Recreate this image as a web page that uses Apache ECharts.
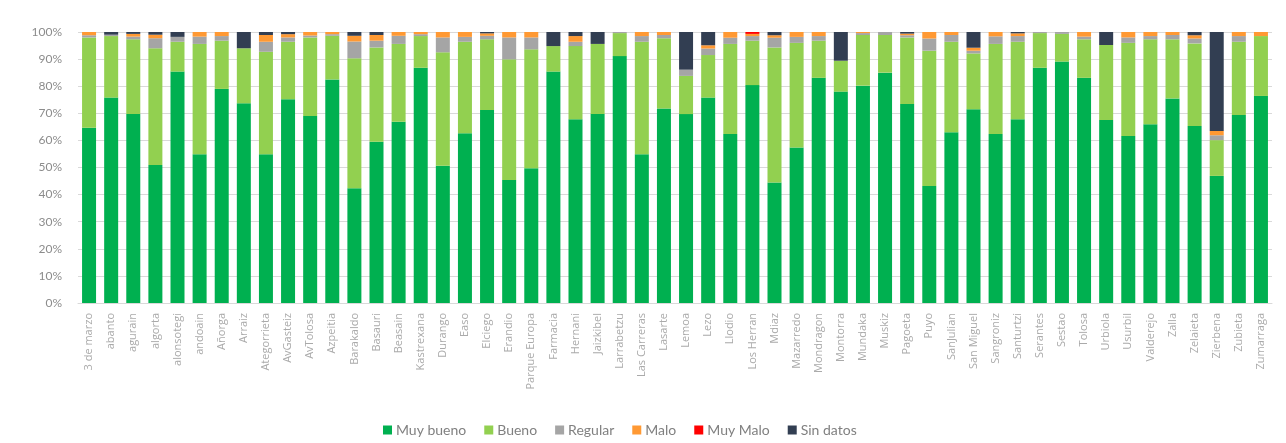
<!DOCTYPE html>
<html>
<head>
<meta charset="utf-8">
<script src="https://cdn.jsdelivr.net/npm/echarts@6/dist/echarts.min.js"></script>
<style>
  html, body { margin: 0; padding: 0; background: #ffffff; }
  #chart { width: 1286px; height: 443px; }
</style>
</head>
<body>
<div id="chart"></div>
<script>
// Station names along the x axis
const stations = [
  "3 de marzo", "abanto", "agurain", "algorta", "alonsotegi", "andoain", "Añorga", "Arraiz",
  "Ategorrieta", "AvGasteiz", "AvTolosa", "Azpeitia", "Barakaldo", "Basauri", "Beasain",
  "Kastrexana", "Durango", "Easo", "Elciego", "Erandio", "Parque Europa", "Farmacia",
  "Hernani", "Jaizkibel", "Larrabetzu", "Las Carreras", "Lasarte", "Lemoa", "Lezo", "Llodio",
  "Los Herran", "Mdiaz", "Mazarredo", "Mondragon", "Montorra", "Mundaka", "Muskiz",
  "Pagoeta", "Puyo", "SanJulian", "San Miguel", "Sangroniz", "Santurtzi", "Serantes",
  "Sestao", "Tolosa", "Urbiola", "Usurbil", "Valderejo", "Zalla", "Zelaieta", "Zierbena",
  "Zubieta", "Zumarraga"
];

// Share of days (%) in each air quality class, per station
const muyBueno = [
  64.7, 75.8, 69.7, 50.9, 85.4, 54.9, 79.0, 73.7, 54.9, 75.2, 69.0, 82.5, 42.3, 59.5, 66.9,
  86.8, 50.6, 62.6, 71.2, 45.4, 49.7, 85.4, 67.8, 69.7, 91.1, 54.9, 71.8, 69.7, 75.8, 62.4,
  80.4, 44.5, 57.4, 83.1, 78.0, 80.2, 85.0, 73.4, 43.2, 63.0, 71.5, 62.4, 67.8, 86.8,
  89.1, 83.1, 67.5, 61.6, 66.0, 75.5, 65.3, 46.9, 69.4, 76.4
];
const bueno = [
  33.3, 22.7, 27.6, 43.1, 11.0, 40.7, 17.8, 20.3, 37.8, 21.2, 29.0, 16.1, 48.0, 34.8, 28.7,
  11.7, 41.9, 33.8, 26.1, 44.5, 43.9, 9.4, 27.0, 25.9, 8.5, 41.5, 25.9, 14.1, 15.7, 33.2,
  16.4, 49.8, 38.6, 13.7, 11.4, 18.7, 13.9, 24.6, 49.9, 33.4, 20.6, 33.2, 28.6, 12.8,
  10.2, 14.2, 27.7, 34.4, 31.3, 21.8, 30.5, 13.2, 27.0, 22.1
];
const regular = [
  0.8, 0.5, 1.0, 3.7, 1.8, 2.7, 1.7, 0, 3.7, 1.6, 0.7, 0.6, 6.2, 2.5, 3.0,
  0.7, 5.5, 1.8, 1.3, 8.1, 4.4, 0, 1.6, 0, 0.4, 2.1, 1.2, 2.3, 2.4, 2.3,
  1.7, 3.6, 2.2, 1.7, 0, 0.7, 1.1, 0.8, 4.5, 2.5, 1.0, 2.8, 2.1, 0.4,
  0.7, 1.0, 0, 2.0, 1.2, 1.6, 1.8, 1.8, 2.1, 0
];
const malo = [
  1.2, 0, 1.0, 1.3, 0, 1.7, 1.5, 0, 2.5, 1.2, 1.3, 0.8, 2.1, 2.1, 1.4,
  0.8, 2.0, 1.8, 0.9, 2.0, 2.0, 0, 2.1, 0, 0, 1.5, 1.1, 0, 1.2, 2.1,
  0.8, 0.9, 1.8, 1.5, 0, 0.4, 0, 0.6, 2.4, 1.1, 1.1, 1.6, 1.0, 0,
  0, 1.7, 0, 2.0, 1.5, 1.1, 1.2, 1.6, 1.5, 1.5
];
const muyMalo = [
  0, 0, 0, 0, 0, 0, 0, 0, 0, 0, 0, 0, 0, 0, 0,
  0, 0, 0, 0, 0, 0, 0, 0, 0, 0, 0, 0, 0, 0, 0,
  0.7, 0, 0, 0, 0, 0, 0, 0, 0, 0, 0, 0, 0, 0,
  0, 0, 0, 0, 0, 0, 0, 0, 0, 0
];
const sinDatos = [
  0, 1.0, 0.7, 1.0, 1.8, 0, 0, 6.0, 1.1, 0.8, 0, 0, 1.4, 1.1, 0,
  0, 0, 0, 0.5, 0, 0, 5.2, 1.5, 4.4, 0, 0, 0, 13.9, 4.9, 0,
  0, 1.2, 0, 0, 10.6, 0, 0, 0.6, 0, 0, 5.8, 0, 0.5, 0,
  0, 0, 4.8, 0, 0, 0, 1.2, 36.5, 0, 0
];

// Y axis ticks (percent)
const yTicks = [0, 10, 20, 30, 40, 50, 60, 70, 80, 90, 100];

const classes = [
  { name: "Muy bueno", data: muyBueno, color: "#00b050" },
  { name: "Bueno",     data: bueno,    color: "#92d050" },
  { name: "Regular",   data: regular,  color: "#a5a5a5" },
  { name: "Malo",      data: malo,     color: "#ff9933" },
  { name: "Muy Malo",  data: muyMalo,  color: "#ff0000" },
  { name: "Sin datos", data: sinDatos, color: "#323e52" }
];

const chart = echarts.init(document.getElementById("chart"), null, { renderer: "canvas" });

chart.setOption({
  animation: false,
  backgroundColor: "#ffffff",
  textStyle: { fontFamily: "Lato, 'Open Sans', sans-serif" },
  grid: { left: 78, right: 14, top: 32, bottom: 140, containLabel: false },
  legend: {
    left: 378,
    top: 418,
    itemWidth: 9,
    itemHeight: 9,
    itemGap: 18,
    icon: "rect",
    textStyle: { color: "#808080", fontSize: 14, padding: [0, 0, 0, -1] },
    data: classes.map(c => c.name)
  },
  xAxis: {
    type: "category",
    data: stations,
    axisTick: { show: false },
    axisLine: { lineStyle: { color: "#d9d9d9" } },
    axisLabel: {
      rotate: 90,
      interval: 0,
      margin: 10,
      fontSize: 11,
      fontFamily: "'Open Sans', sans-serif",
      color: "#aaaaaa"
    }
  },
  yAxis: {
    type: "value",
    min: yTicks[0],
    max: yTicks[yTicks.length - 1],
    interval: yTicks[1] - yTicks[0],
    axisLine: { show: false },
    axisTick: { show: false },
    splitLine: { lineStyle: { color: "#d9d9d9", width: 1 } },
    axisLabel: {
      margin: 16,
      fontSize: 12,
      color: "#8c8c8c",
      formatter: v => v + "%"
    }
  },
  series: classes.map(c => ({
    name: c.name,
    type: "bar",
    stack: "total",
    barWidth: 14,
    data: c.data,
    itemStyle: { color: c.color }
  }))
});
</script>
</body>
</html>
